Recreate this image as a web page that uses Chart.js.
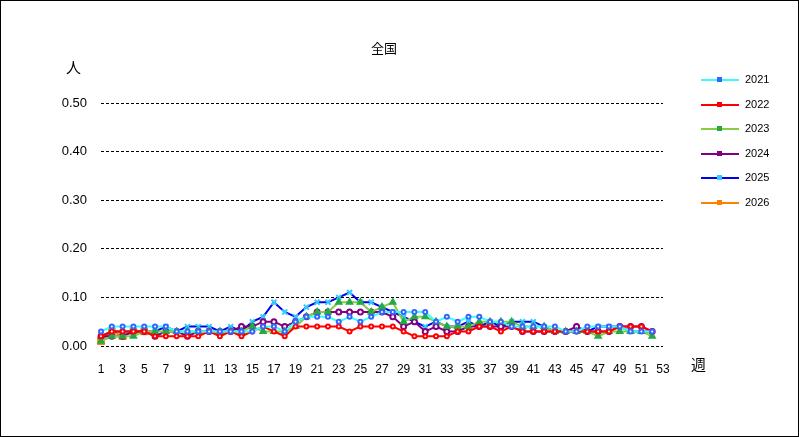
<!DOCTYPE html>
<html><head><meta charset="utf-8">
<script src="https://cdn.jsdelivr.net/npm/chart.js@4"></script>
<style>
body{margin:0;background:#fff;font-family:"Noto Sans CJK JP","DejaVu Sans",sans-serif}
#wrap{position:relative;width:797px;height:435px;border:1px solid #000;overflow:hidden}
canvas{position:absolute;left:0;top:0}
.t{position:absolute;font-size:13px;color:#000}
#leg{position:absolute;left:698px;top:72px;font-family:"Liberation Sans",Arial,sans-serif;font-size:11px}
#leg div{position:relative;height:24.5px;padding-left:46px;line-height:12px}
#leg i{position:absolute;left:2px;top:6px;width:38px;height:2px}
#leg b{position:absolute;left:18px;top:4px;width:5px;height:5px}
</style></head><body>
<div id="wrap"><canvas id="c" width="797" height="435"></canvas>
<div class="t" style="left:370px;top:37px">全国</div>
<div class="t" style="left:65px;top:55px;font-size:15px">人</div>
<div class="t" style="left:690px;top:352px;font-size:15px">週</div>
<div id="leg"></div></div>
<script>
const weeks=Array.from({length:53},(_,i)=>String(i+1));
const y2021=[0.03,0.04,0.04,0.04,0.04,0.04,0.04,0.03,0.03,0.03,0.03,0.03,0.03,0.03,0.03,0.04,0.04,0.03,0.05,0.06,0.06,0.06,0.05,0.06,0.05,0.06,0.07,0.07,0.07,0.07,0.07,0.05,0.06,0.05,0.06,0.06,0.05,0.05,0.04,0.04,0.04,0.04,0.04,0.03,0.03,0.04,0.04,0.04,0.04,0.03,0.03,0.03];
const y2022=[0.02,0.03,0.03,0.03,0.03,0.02,0.02,0.02,0.02,0.02,0.03,0.02,0.03,0.02,0.03,0.04,0.03,0.02,0.04,0.04,0.04,0.04,0.04,0.03,0.04,0.04,0.04,0.04,0.03,0.02,0.02,0.02,0.02,0.03,0.03,0.04,0.04,0.03,0.04,0.03,0.03,0.03,0.03,0.03,0.03,0.03,0.03,0.03,0.04,0.04,0.04,0.03];
const y2023=[0.01,0.02,0.02,0.02,0.03,0.03,0.03,0.03,0.03,0.03,0.03,0.03,0.03,0.03,0.04,0.03,0.03,0.03,0.04,0.06,0.07,0.07,0.09,0.09,0.09,0.07,0.08,0.09,0.05,0.06,0.06,0.05,0.04,0.04,0.04,0.05,0.05,0.05,0.05,0.04,0.04,0.04,0.03,0.03,0.03,0.03,0.02,0.03,0.03,0.03,0.03,0.02];
const y2024=[0.02,0.02,0.02,0.03,0.03,0.02,0.03,0.03,0.02,0.03,0.03,0.03,0.03,0.04,0.04,0.05,0.05,0.04,0.05,0.06,0.07,0.07,0.07,0.07,0.07,0.07,0.07,0.06,0.04,0.05,0.03,0.04,0.03,0.03,0.04,0.04,0.04,0.04,0.04,0.03,0.03,0.03,0.03,0.03,0.04,0.03,0.03,0.03,0.04,0.04,0.04,0.03];
const y2025=[0.02,0.03,0.03,0.03,0.03,0.03,0.04,0.03,0.04,0.04,0.04,0.03,0.04,0.03,0.05,0.06,0.09,0.07,0.06,0.08,0.09,0.09,0.10,0.11,0.09,0.09,0.08,0.07,0.06,0.05,0.04,0.05,0.04,0.04,0.05,0.04,0.05,0.04,0.05,0.05,0.05,0.04,0.03,0.03,0.03,0.03,0.04,0.04,0.04,0.03,0.03,0.03];
const y2026=[0.01,0.03,0.02,0.03,0.03];
const yTicks=[0,0.1,0.2,0.3,0.4,0.5];
const S=[
 ['2021',y2021,'#33ffff','#3366ff','circle',2],
 ['2022',y2022,'#ff0000','#ff0000','circle',2],
 ['2023',y2023,'#88cc44','#22aa44','triangle',3],
 ['2024',y2024,'#800080','#800080','circle',2.5],
 ['2025',y2025,'#0000ee','#33ccff','crossRot',3.5],
 ['2026',y2026,'#ff8000','#ff8000','rect',4]];
const leg=document.getElementById('leg');
S.forEach(s=>{const d=document.createElement('div');d.innerHTML=`<i style="background:${s[2]}"></i><b style="background:${s[3]}"></b>${s[0]}`;leg.appendChild(d);});
const ticksPlugin={id:'tk',afterDraw(ch){const c=ch.ctx,x=ch.scales.x,a=ch.chartArea;c.save();c.strokeStyle='#000';c.lineWidth=1;
 for(let i=0;i<weeks.length;i++){const px=Math.round(x.getPixelForValue(i))+0.5;c.beginPath();c.moveTo(px,a.bottom);c.lineTo(px,a.bottom-5);c.stroke();}
 c.strokeStyle='#808080';c.lineWidth=2;c.strokeRect(a.left,a.top,a.right-a.left,a.bottom-a.top);c.restore();}};
new Chart(document.getElementById('c'),{type:'line',
 data:{labels:weeks,datasets:S.map(s=>({label:s[0],data:s[1],borderColor:s[2],backgroundColor:s[3],pointBorderColor:s[3],pointBackgroundColor:s[4]=='circle'?'#fff':s[3],pointStyle:s[4],pointRadius:s[5],borderWidth:2,tension:0}))},
 options:{responsive:false,animation:false,
  layout:{padding:{left:0,right:135,top:102,bottom:0}},
  plugins:{legend:{display:false},tooltip:{enabled:false}},
  scales:{
   x:{offset:false,afterFit(s){s.height=90;},grid:{display:false},border:{display:false},
     ticks:{autoSkip:false,maxRotation:0,padding:8,color:'#000',font:{family:'Liberation Sans',size:12},callback:(v,i)=>i%2==0?weeks[i]:''}},
   y:{min:0,max:0.5,afterFit(s){s.width=100;},afterBuildTicks(s){s.ticks=yTicks.map(v=>({value:v}));},
     grid:{color:'#000',drawTicks:false,lineWidth:1},border:{display:false,dash:[3,2]},
     ticks:{color:'#000',padding:14,font:{family:'Liberation Sans',size:13},callback:v=>v.toFixed(2)}}
  }}});
</script>
</body></html>
